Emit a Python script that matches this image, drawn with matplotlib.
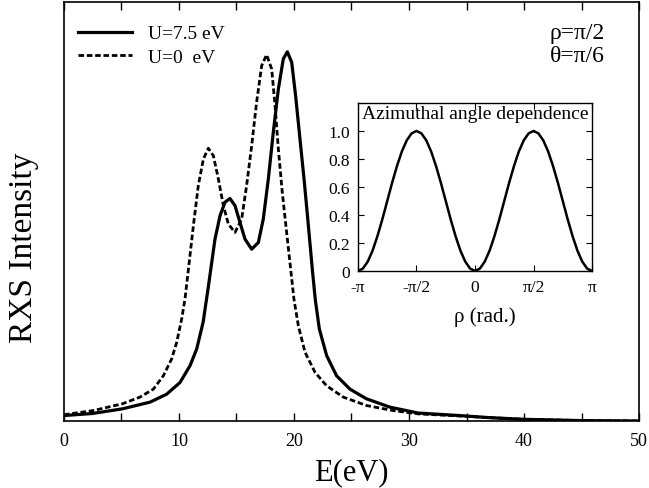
import numpy as np
import matplotlib
matplotlib.use('Agg')
import matplotlib.pyplot as plt

plt.rcParams['font.family'] = ['Liberation Serif', 'DejaVu Serif']

# main curves (E in eV, intensity in arb. units)
e_u75 = [0, 2.5, 5.07, 7.48, 8.93, 10.09, 10.96, 11.54, 12.1, 12.55, 13.13, 13.57,
         14.0, 14.43, 14.87, 15.3, 15.74, 16.32, 16.9, 17.33, 17.77, 18.2, 18.64,
         19.07, 19.42, 19.8, 20.14, 20.52, 20.9, 21.25, 21.6, 21.85, 22.2, 22.84,
         23.7, 24.87, 26.3, 28.35, 30.8, 34.4, 37, 40, 45, 50]
i_u75 = [0.013, 0.018, 0.029, 0.045, 0.064, 0.092, 0.132, 0.172, 0.236, 0.32, 0.434,
         0.49, 0.522, 0.531, 0.514, 0.474, 0.434, 0.41, 0.426, 0.482, 0.578, 0.689,
         0.792, 0.864, 0.881, 0.856, 0.776, 0.673, 0.57, 0.466, 0.36, 0.29, 0.22,
         0.156, 0.108, 0.076, 0.053, 0.033, 0.019, 0.013, 0.008, 0.004, 0.001, 0.0]

e_u0 = [0, 2.55, 5.07, 6.6, 7.77, 8.64, 9.36, 9.8, 10.23, 10.52, 10.81, 11.25, 11.68,
        12.12, 12.55, 12.99, 13.42, 13.86, 14.29, 14.87, 15.45, 15.88, 16.32, 16.75,
        17.19, 17.62, 18.06, 18.35, 18.64, 18.98, 19.36, 19.74, 20.0, 20.38, 20.96,
        21.83, 22.84, 24.29, 26.3, 28.6, 30.8, 34.4, 37, 40, 45, 50]
i_u0 = [0.015, 0.025, 0.041, 0.057, 0.076, 0.108, 0.148, 0.188, 0.243, 0.291, 0.36,
        0.466, 0.562, 0.625, 0.651, 0.633, 0.578, 0.514, 0.47, 0.45, 0.482, 0.562,
        0.657, 0.761, 0.848, 0.874, 0.84, 0.753, 0.649, 0.546, 0.45, 0.355, 0.29,
        0.227, 0.164, 0.116, 0.084, 0.057, 0.037, 0.025, 0.017, 0.012, 0.008, 0.004,
        0.001, 0.0]

# inset: azimuthal dependence, sampled every pi/24
rho = np.linspace(-np.pi, np.pi, 49)
azi = [0, 0.017, 0.067, 0.146, 0.25, 0.37, 0.5, 0.63, 0.75, 0.854, 0.933, 0.983, 1.0,
       0.983, 0.933, 0.854, 0.75, 0.63, 0.5, 0.37, 0.25, 0.146, 0.067, 0.017, 0,
       0.017, 0.067, 0.146, 0.25, 0.37, 0.5, 0.63, 0.75, 0.854, 0.933, 0.983, 1.0,
       0.983, 0.933, 0.854, 0.75, 0.63, 0.5, 0.37, 0.25, 0.146, 0.067, 0.017, 0]
rho_ticks = [-np.pi, -np.pi / 2, 0, np.pi / 2, np.pi]
rho_labels = ['-π', '-π/2', '0', 'π/2', 'π']
azi_ticks = [0, 0.2, 0.4, 0.6, 0.8, 1.0]
azi_labels = ['0', '0.2', '0.4', '0.6', '0.8', '1.0']

fig = plt.figure(figsize=(6.49, 4.89), dpi=100)
ax = fig.add_axes([0.0986, 0.137, 0.886, 0.857])

ax.plot(e_u75, i_u75, color='black', lw=2.3, label='U=7.5 eV')
ax.plot(e_u0, i_u0, color='black', lw=2.0, linestyle=(0, (2.0, 1.0)), label='U=0  eV')
ax.set_xlim(0, 50)
ax.set_ylim(0, 1)
ax.set_yticks([])
ax.set_xticks(np.arange(0, 51, 5))
ax.set_xticklabels(['0', '', '10', '', '20', '', '30', '', '40', '', '50'])
ax.tick_params(axis='x', direction='in', length=6, width=1, top=True,
               labelsize=13, pad=8)
for s in ax.spines.values():
    s.set_linewidth(1.2)
ax.set_xlabel('E(eV)', fontsize=22, labelpad=6)
fig.text(0.036, 0.493, 'RXS Intensity', rotation=90, fontsize=24,
         ha='center', va='center')

leg = ax.legend(loc='upper left', frameon=False, fontsize=14, handlelength=2.8,
                handletextpad=0.8, borderaxespad=0.3, labelspacing=0.3,
                bbox_to_anchor=(0.0, 0.978))

ax.text(0.94, 0.928, 'ρ=π/2', transform=ax.transAxes, ha='right', va='center',
        fontsize=17)
ax.text(0.94, 0.872, 'θ=π/6', transform=ax.transAxes, ha='right', va='center',
        fontsize=17)

# inset
ins = fig.add_axes([0.5516, 0.4438, 0.3606, 0.3436])
ins.plot(rho, azi, color='black', lw=1.8)
ins.set_xlim(-np.pi, np.pi)
ins.set_ylim(0, 1.2)
ins.set_xticks(rho_ticks)
ins.set_xticklabels(rho_labels)
ins.set_yticks(azi_ticks)
ins.set_yticklabels(azi_labels)
ins.tick_params(direction='in', length=4, top=True, right=True, labelsize=12.5, pad=6)
for s in ins.spines.values():
    s.set_linewidth(1.0)
ins.set_xlabel('ρ (rad.)', fontsize=15)
ins.xaxis.set_label_coords(0.54, -0.21)
ins.text(0.5, 0.985, 'Azimuthal angle dependence', transform=ins.transAxes,
         ha='center', va='top', fontsize=14)

fig.savefig('out.png', dpi=100)
